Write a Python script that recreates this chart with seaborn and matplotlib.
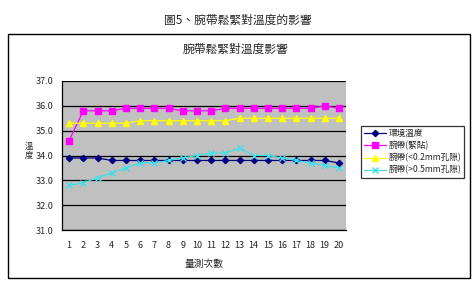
import numpy as np
import pandas as pd
import matplotlib
matplotlib.use("Agg")
import matplotlib.pyplot as plt
from matplotlib.patches import Rectangle
from matplotlib.ticker import MultipleLocator, FixedLocator
import seaborn as sns

# ---- data ----
trials = list(range(1, 21))
series_names = ["環境溫度", "腕帶(緊貼)", "腕帶(<0.2mm孔隙)", "腕帶(>0.5mm孔隙)"]
ambient = [33.9, 33.9, 33.9, 33.8, 33.8, 33.8, 33.8, 33.8, 33.8, 33.8,
           33.8, 33.8, 33.8, 33.8, 33.8, 33.8, 33.8, 33.8, 33.8, 33.7]
tight = [34.6, 35.8, 35.8, 35.8, 35.9, 35.9, 35.9, 35.9, 35.8, 35.8,
         35.8, 35.9, 35.9, 35.9, 35.9, 35.9, 35.9, 35.9, 36.0, 35.9]
gap_small = [35.3, 35.3, 35.3, 35.3, 35.3, 35.4, 35.4, 35.4, 35.4, 35.4,
             35.4, 35.4, 35.5, 35.5, 35.5, 35.5, 35.5, 35.5, 35.5, 35.5]
gap_large = [32.8, 32.9, 33.1, 33.3, 33.5, 33.7, 33.7, 33.8, 33.9, 34.0,
             34.1, 34.1, 34.3, 34.0, 34.0, 33.9, 33.8, 33.7, 33.6, 33.5]
y_ticks = [31.0, 32.0, 33.0, 34.0, 35.0, 36.0, 37.0]

fig_title = "圖5、腕帶鬆緊對溫度的影響"
chart_title = "腕帶鬆緊對溫度影響"
x_label = "量測次數"
y_label = "溫度"

df = pd.DataFrame({"次數": trials, series_names[0]: ambient, series_names[1]: tight,
                   series_names[2]: gap_small, series_names[3]: gap_large})
long = df.melt(id_vars="次數", var_name="series", value_name="溫度")

sns.set_theme(style="white")
plt.rcParams['font.family'] = ['Noto Sans CJK TC', 'DejaVu Sans']

palette = {series_names[0]: "#000080", series_names[1]: "#FF00FF",
           series_names[2]: "#FFFF00", series_names[3]: "#40E0E8"}
markers = {series_names[0]: "D", series_names[1]: "s",
           series_names[2]: "^", series_names[3]: "x"}
msizes = {series_names[0]: 3.2, series_names[1]: 4.6,
          series_names[2]: 4.5, series_names[3]: 4.0}

fig = plt.figure(figsize=(4.76, 2.89), dpi=100)
fig.patch.set_facecolor("white")

# chart border box
fig.patches.append(Rectangle((8/476, 1-277.7/289), 462/476, (277.7-33.5)/289,
                             transform=fig.transFigure, fill=False,
                             edgecolor="black", linewidth=1.0))

ax = fig.add_axes([62/476, 1-230/289, 284/476, 149/289])
ax.set_facecolor("#C0C0C0")

for name in series_names:
    sub = long[long["series"] == name]
    sns.lineplot(data=sub, x="次數", y="溫度", ax=ax, color=palette[name],
                 marker=markers[name], markersize=msizes[name],
                 markeredgecolor=palette[name], markeredgewidth=1.0,
                 linewidth=0.9, label=name, zorder=3)

ax.set_xlim(0.5, 20.5)
ax.set_ylim(31.0, 37.0)
ax.yaxis.set_major_locator(FixedLocator(y_ticks))
ax.set_yticklabels([f"{v:.1f}" for v in y_ticks], fontsize=6.5)
ax.set_xticks(trials)
ax.set_xticklabels([str(t) for t in trials], fontsize=6.5)
ax.xaxis.set_minor_locator(MultipleLocator(1, offset=0.5))
ax.tick_params(axis="x", which="major", length=0, pad=8)
ax.tick_params(axis="x", which="minor", length=3, width=0.8, color="black", direction="out")
ax.tick_params(axis="y", which="major", length=3, width=0.8, color="black", direction="out", pad=3)
ax.grid(axis="y", color="black", linewidth=0.9, zorder=1)
ax.set_axisbelow(True)
for s in ["top", "right"]:
    ax.spines[s].set_visible(False)
for s in ["left", "bottom"]:
    ax.spines[s].set_color("black")
    ax.spines[s].set_linewidth(0.9)

ax.set_xlabel(x_label, fontsize=7, labelpad=6)
ax.set_ylabel("")
fig.text(29/476, 1-151/289, "\n".join(y_label), ha="center", va="center",
         fontsize=6, linespacing=1.0)

leg = ax.legend(loc="upper left", bbox_to_anchor=(357/476, 1-122/289),
                bbox_transform=fig.transFigure, fontsize=6.2, frameon=True,
                fancybox=False, edgecolor="black", borderpad=0.35,
                labelspacing=0.35, handlelength=2.5, handletextpad=0.3)
leg.get_frame().set_linewidth(0.9)

fig.text(0.5, 1-20/289, fig_title, ha="center", va="center", fontsize=8.5)
fig.text(235/476, 1-49/289, chart_title, ha="center", va="center", fontsize=8.5)

fig.savefig("out.png", dpi=100, facecolor="white")
